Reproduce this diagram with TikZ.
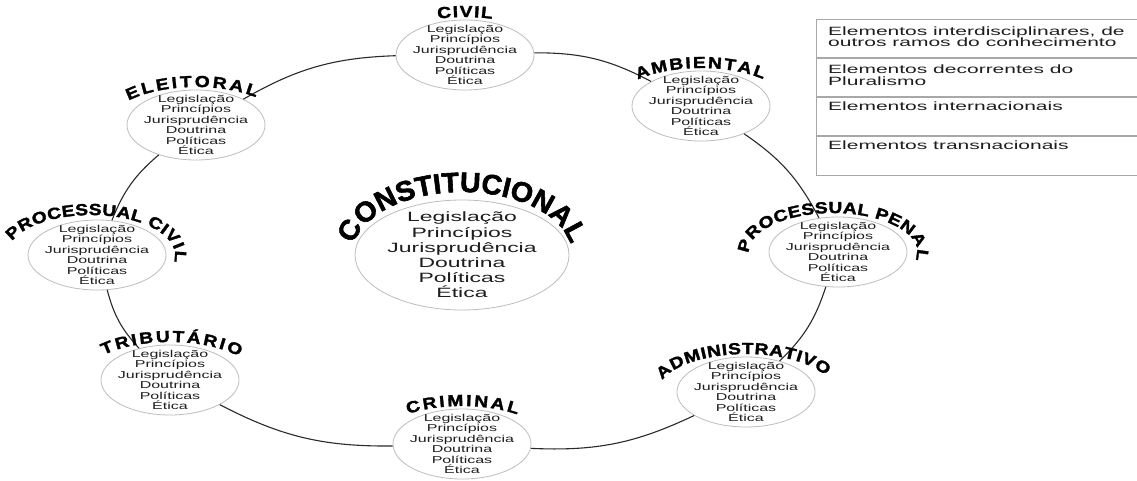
\documentclass[tikz,border=0pt]{standalone}
\usepackage{fontspec}
\setmainfont{Liberation Sans}
\newfontfamily\bodyf[FakeStretch=1.6]{Liberation Sans}
\newfontfamily\bigf[FakeStretch=1.7]{Liberation Sans}
\newfontfamily\legf[FakeStretch=1.75]{Liberation Sans}
\newfontfamily\titf[FakeStretch=1.2,FakeBold=2]{Liberation Sans Bold}
\newfontfamily\bigtitf[FakeStretch=1.02,FakeBold=2]{Liberation Sans Bold}
\usetikzlibrary{shapes.geometric,decorations.text}
\definecolor{ellgray}{HTML}{BDBDBD}
\definecolor{legray}{HTML}{A8A8A8}
\definecolor{txtc}{HTML}{1E1E1E}
\definecolor{ringc}{HTML}{2A2A2A}
% #1 node, #2 text, #3 start angle, #4 end angle, #5 x shift, #6 x radius, #7 y radius
\newcommand\archtitle[7]{%
  \path[decorate,decoration={text along path,text align=fit to path,
      text={|\titf\fontsize{16}{16}\selectfont\color{black}|#2}}]
    ([xshift=#5]#1) ++(#3:#6 and #7) arc[start angle=#3,end angle=#4,x radius=#6,y radius=#7];}
\newcommand\smalltitle[4]{\archtitle{#1}{#2}{#3}{#4}{0}{88}{38}}
\begin{document}
\begin{tikzpicture}[x=1pt,y=1pt,
  smallell/.style={ellipse,draw=ellgray,line width=0.8pt,fill=white,minimum width=138,minimum height=70,inner sep=0},
  bigell/.style={ellipse,draw=ellgray,line width=0.8pt,fill=white,minimum width=214,minimum height=110,inner sep=0},
  smalltxt/.style={font=\bodyf\fontsize{10}{10.4}\selectfont,align=center,text=txtc,inner sep=0},
  bigtxt/.style={font=\bigf\fontsize{13.5}{15.2}\selectfont,align=center,text=txtc,inner sep=0},
  ringline/.style={draw=ringc,line width=1.1pt},
  legrow/.style={draw=legray,line width=0.8pt,minimum width=340,minimum height=38.3,inner sep=0,anchor=north west},
  legtxt/.style={font=\legf\fontsize{12}{12}\selectfont,text=txtc,inner sep=0,anchor=base west}
]
\useasboundingbox (0,0) rectangle (1137,480);
\fill[white] (0,0) rectangle (1137,480);

% nodes
\node[smallell] (civil) at (465,425) {};
\node[smallell] (amb) at (701,374) {};
\node[smallell] (ppenal) at (838,228) {};
\node[smallell] (admin) at (746,88) {};
\node[smallell] (crim) at (462,36) {};
\node[smallell] (trib) at (170,100) {};
\node[smallell] (pcivil) at (97,225) {};
\node[smallell] (eleit) at (196,355) {};
\node[bigell] (const) at (462,225) {};

% ring connectors
\draw[ringline] (civil) to[bend left=14] (amb);
\draw[ringline] (amb) to[bend left=14] (ppenal);
\draw[ringline] (ppenal) to[bend left=14] (admin);
\draw[ringline] (admin) to[bend left=14] (crim);
\draw[ringline] (crim) to[bend left=14] (trib);
\draw[ringline] (trib) to[bend left=14] (pcivil);
\draw[ringline] (pcivil) to[bend left=14] (eleit);
\draw[ringline] (eleit) to[bend left=14] (civil);

% texts
\foreach \n in {civil,amb,ppenal,admin,crim,trib,pcivil,eleit}{
  \node[smalltxt] (t-\n) at (\n) {Legislação\\Princípios\\Jurisprudência\\Doutrina\\Políticas\\Ética};
}
\node[bigtxt] (t-const) at (const) {Legislação\\Princípios\\Jurisprudência\\Doutrina\\Políticas\\Ética};

% arched titles
\smalltitle{civil}{CIVIL}{108}{72}
\smalltitle{amb}{AMBIENTAL}{136}{45}
\archtitle{ppenal}{PROCESSUAL PENAL}{182}{-12}{-5}{84}{39}
\smalltitle{admin}{ADMINISTRATIVO}{162}{25}
\smalltitle{crim}{CRIMINAL}{128}{51}
\smalltitle{trib}{TRIBUTÁRIO}{139}{38}
\archtitle{pcivil}{PROCESSUAL CIVIL}{160}{-10}{-6}{84}{40}
\smalltitle{eleit}{ELEITORAL}{140}{47}
\path[decorate,decoration={text along path,text align=center,
    text={|\bigtitf\fontsize{28}{28}\selectfont\color{black}|CONSTITUCIONAL}}]
  (const) ++(190:110 and 63) arc[start angle=190,end angle=-10,x radius=110,y radius=63];

% legend
\node[legrow] (r1) at (816,461) {};
\node[legrow] (r2) at (r1.south west) {};
\node[legrow] (r3) at (r2.south west) {};
\node[legrow] (r4) at (r3.south west) {};
\node[legtxt] (l1a) at (828,444.7) {Elementos interdisciplinares, de};
\node[legtxt] (l1b) at (828,433.3) {outros ramos do conhecimento};
\node[legtxt] (l2a) at (828,406) {Elementos decorrentes do};
\node[legtxt] (l2b) at (828,394.5) {Pluralismo};
\node[legtxt] (l3) at (828,369.3) {Elementos internacionais};
\node[legtxt] (l4) at (828,330.7) {Elementos transnacionais};
\end{tikzpicture}
\end{document}
